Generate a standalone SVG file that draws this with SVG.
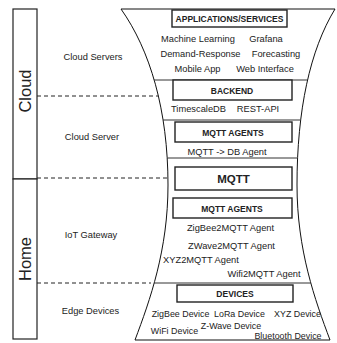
<svg xmlns="http://www.w3.org/2000/svg" width="337" height="343" viewBox="0 0 337 343">
  <style>
    text { font-family: "Liberation Sans", Arial, sans-serif; fill: #222; }
    .lbl { font-size: 9.3px; text-anchor: middle; }
    .dev { font-size: 8.9px; text-anchor: middle; }
    .hdr { font-size: 8.5px; font-weight: bold; text-anchor: middle; }
    .big { font-size: 11.5px; font-weight: bold; text-anchor: middle; }
    .tier { font-size: 16.5px; text-anchor: middle; }
    .box { fill: #fff; stroke: #222; stroke-width: 1.4; }
    .sep { stroke: #333; stroke-width: 1; fill: none; }
    .dash { stroke: #222; stroke-width: 1; stroke-dasharray: 4 3; fill: none; }
    .outline { fill: #fff; stroke: #111; stroke-width: 1; }
  </style>
  <defs>
    <path id="funnel-shape" d="M121,9 L335,9 C310,50 297,110 297,185 C297,250 315,300 330,340 L135,340 C150,300 168,250 168,185 C168,110 150,50 121,9 Z"/>
    <clipPath id="funnel-clip">
      <use href="#funnel-shape"/>
    </clipPath>
  </defs>

  <rect width="337" height="343" fill="#fff"/>

  <!-- tier side bars -->
  <g id="tier-cloud">
    <rect x="13" y="9" width="24" height="170" fill="#fff" stroke="#222" stroke-width="1.2"/>
    <text class="tier" transform="translate(31,91) rotate(-90)">Cloud</text>
  </g>
  <g id="tier-home">
    <rect x="13" y="179" width="24" height="160" fill="#fff" stroke="#222" stroke-width="1.2"/>
    <text class="tier" transform="translate(31,259) rotate(-90)">Home</text>
  </g>

  <!-- layer labels -->
  <g id="label-cloud-servers"><text class="lbl" x="93" y="60">Cloud Servers</text></g>
  <g id="label-cloud-server"><text class="lbl" x="92" y="140">Cloud Server</text></g>
  <g id="label-iot-gateway"><text class="lbl" x="91" y="238">IoT Gateway</text></g>
  <g id="label-edge-devices"><text class="lbl" x="90.5" y="314">Edge Devices</text></g>

  <!-- funnel body -->
  <g id="funnel">
    <use href="#funnel-shape" class="outline"/>
    <g clip-path="url(#funnel-clip)">
      <line class="sep" x1="100" y1="80" x2="337" y2="80"/>
      <line class="sep" x1="100" y1="120" x2="337" y2="120"/>
      <line class="sep" x1="100" y1="158" x2="337" y2="158"/>
      <line class="sep" x1="100" y1="283" x2="337" y2="283"/>
    </g>
  </g>

  <!-- tier boundaries -->
  <g id="connectors">
    <line class="dash" x1="37" y1="96" x2="159" y2="96"/>
    <line class="dash" x1="37" y1="178" x2="168" y2="178"/>
    <line class="dash" x1="37" y1="283" x2="151" y2="283"/>
  </g>

  <g id="applications">
    <rect class="box" x="172" y="10" width="115" height="17"/>
    <text class="hdr" x="229.5" y="22">APPLICATIONS/SERVICES</text>
    <text class="lbl" x="198" y="41.5">Machine Learning</text>
    <text class="lbl" x="266" y="41.5">Grafana</text>
    <text class="lbl" x="200.5" y="56.5">Demand-Response</text>
    <text class="lbl" x="276" y="56.5">Forecasting</text>
    <text class="lbl" x="197.5" y="71.5">Mobile App</text>
    <text class="lbl" x="265" y="71.5">Web Interface</text>
  </g>

  <g id="backend">
    <rect class="box" x="173" y="80" width="119" height="20"/>
    <text class="hdr" x="232" y="93.5">BACKEND</text>
    <text class="lbl" x="198.5" y="111.5">TimescaleDB</text>
    <text class="lbl" x="258" y="111.5">REST-API</text>
  </g>

  <g id="cloud-agents">
    <rect class="box" x="175" y="122" width="117" height="20"/>
    <text class="hdr" x="233" y="135.5">MQTT AGENTS</text>
    <text class="lbl" x="227" y="154.5">MQTT -&gt; DB Agent</text>
  </g>

  <g id="mqtt">
    <rect class="box" x="175" y="167" width="117" height="23"/>
    <text class="big" x="233.5" y="183">MQTT</text>
  </g>

  <g id="gateway-agents">
    <rect class="box" x="173" y="198" width="119" height="20"/>
    <text class="hdr" x="232" y="211.5">MQTT AGENTS</text>
    <text class="lbl" x="230.5" y="231">ZigBee2MQTT Agent</text>
    <text class="lbl" x="231.5" y="248.5">ZWave2MQTT Agent</text>
    <text class="lbl" x="201" y="262.5">XYZ2MQTT Agent</text>
    <text class="lbl" x="264" y="276.5">Wifi2MQTT Agent</text>
  </g>

  <g id="devices">
    <rect class="box" x="177" y="285" width="116" height="17"/>
    <text class="hdr" x="235" y="297">DEVICES</text>
    <text class="dev" x="180.5" y="316.5">ZigBee Device</text>
    <text class="dev" x="239.5" y="316.5">LoRa Device</text>
    <text class="dev" x="297.5" y="316.5">XYZ Device</text>
    <text class="dev" x="174.5" y="334">WiFi Device</text>
    <text class="dev" x="231" y="328.5">Z-Wave Device</text>
    <text class="dev" x="288" y="338.5">Bluetooth Device</text>
  </g>
</svg>
